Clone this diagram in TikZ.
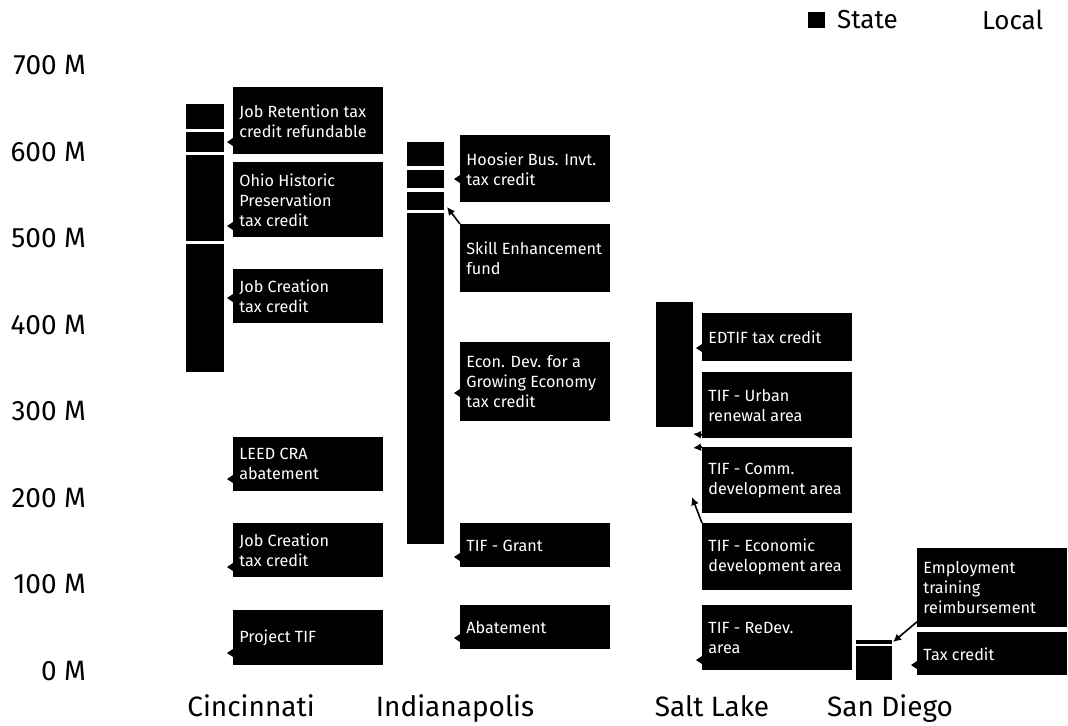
\documentclass[tikz,border=0pt]{standalone}
\usepackage{fontspec}
\setmainfont{Fira Sans}
\usetikzlibrary{arrows.meta,positioning}
\tikzset{
  lbl/.style={fill=black, text=white, anchor=north west, minimum width=75pt, text width=69pt, inner xsep=3pt, inner ysep=0pt, align=flush left, font=\fontsize{8.1}{10}\selectfont},
  ax/.style={anchor=east, font=\fontsize{14}{15}\selectfont},
  city/.style={anchor=base, font=\fontsize{14}{16}\selectfont},
  arr/.style={-{Latex[length=4pt,width=4pt]}, line width=0.8pt}
}
\newcommand\boxtip[2]{\fill (#1.west |- 0,#2) +(0,-4) -- +(-6,0) -- +(0,4) -- cycle;}
\begin{document}
\begin{tikzpicture}[x=0.5pt,y=-0.5pt]
\useasboundingbox[fill=white] (0,0) rectangle (1068,725);
\foreach \v in {0,100,...,700} \node[ax] (ax\v) at (93,671-\v*0.8657) {\v\ M};
\fill (808,12) rectangle (825,28);
\node[anchor=west, font=\fontsize{13}{14}\selectfont] (state) at (830,20) {State};
\node[anchor=west, font=\fontsize{13}{14}\selectfont] (local) at (975,20) {Local};
\foreach \a/\b in {104/129,132/152,155/241,244/372} \fill (186,\a) rectangle (224,\b);
\foreach \a/\b in {142/166,170/188,192/210,213/544} \fill (407,\a) rectangle (444,\b);
\fill (656,302) rectangle (693,427);
\foreach \a/\b in {640/644,646/680} \fill (856,\a) rectangle (892,\b);
\node[lbl, minimum height=33.5pt] (cjr) at (233,87) {Job Retention tax\\credit refundable};
\node[lbl, minimum height=37.5pt] (coh) at (233,162) {Ohio Historic\\Preservation\\tax credit};
\node[lbl, minimum height=27pt] (cjc) at (233,269) {Job Creation\\tax credit};
\node[lbl, minimum height=27pt] (cle) at (233,437) {LEED CRA\\abatement};
\node[lbl, minimum height=27pt] (cjt) at (233,523) {Job Creation\\tax credit};
\node[lbl, minimum height=27.5pt] (cpt) at (233,610) {Project TIF};
\node[lbl, minimum height=33.5pt] (iho) at (460,135) {Hoosier Bus. Invt.\\tax credit};
\node[lbl, minimum height=34pt] (isk) at (460,224) {Skill Enhancement\\fund};
\node[lbl, minimum height=39.5pt] (ied) at (460,342) {Econ. Dev. for a\\Growing Economy\\tax credit};
\node[lbl, minimum height=22pt] (itg) at (460,523) {TIF - Grant};
\node[lbl, minimum height=22pt] (iab) at (460,605) {Abatement};
\node[lbl, minimum height=24pt] (sed) at (702,313) {EDTIF tax credit};
\node[lbl, minimum height=33pt] (sur) at (702,372) {TIF - Urban\\renewal area};
\node[lbl, minimum height=33pt] (sco) at (702,447) {TIF - Comm.\\development area};
\node[lbl, minimum height=33.5pt] (sec) at (702,523) {TIF - Economic\\development area};
\node[lbl, minimum height=32.5pt] (srd) at (702,605) {TIF - ReDev.\\area};
\node[lbl, minimum height=39.5pt] (dem) at (917,548) {Employment\\training\\reimbursement};
\node[lbl, minimum height=21.5pt] (dtc) at (917,632) {Tax credit};
\boxtip{cjr}{142} \boxtip{coh}{226} \boxtip{cjc}{298} \boxtip{cle}{479} \boxtip{cjt}{567} \boxtip{cpt}{653}
\boxtip{iho}{179} \boxtip{ied}{393} \boxtip{itg}{557} \boxtip{iab}{638}
\boxtip{sed}{348} \boxtip{srd}{660} \boxtip{dtc}{665}
\coordinate (isktip) at (447,207);
\coordinate (surtip) at (693,434);
\coordinate (scotip) at (693,448);
\coordinate (sectip) at (692,497);
\coordinate (demtip) at (893,642);
\draw[arr] (isk.north west) -- (isktip);
\draw[arr] ([yshift=2pt]sur.south west) -- (surtip);
\draw[arr] (sco.north west) -- (scotip);
\draw[arr] (sec.north west) -- (sectip);
\draw[arr] ([yshift=3pt]dem.south west) -- (demtip);
\node[city] (cin) at (251,716) {Cincinnati};
\node[city] (ind) at (455,716) {Indianapolis};
\node[city] (slc) at (712,716) {Salt Lake};
\node[city] (sdg) at (890,716) {San Diego};
\end{tikzpicture}
\end{document}
